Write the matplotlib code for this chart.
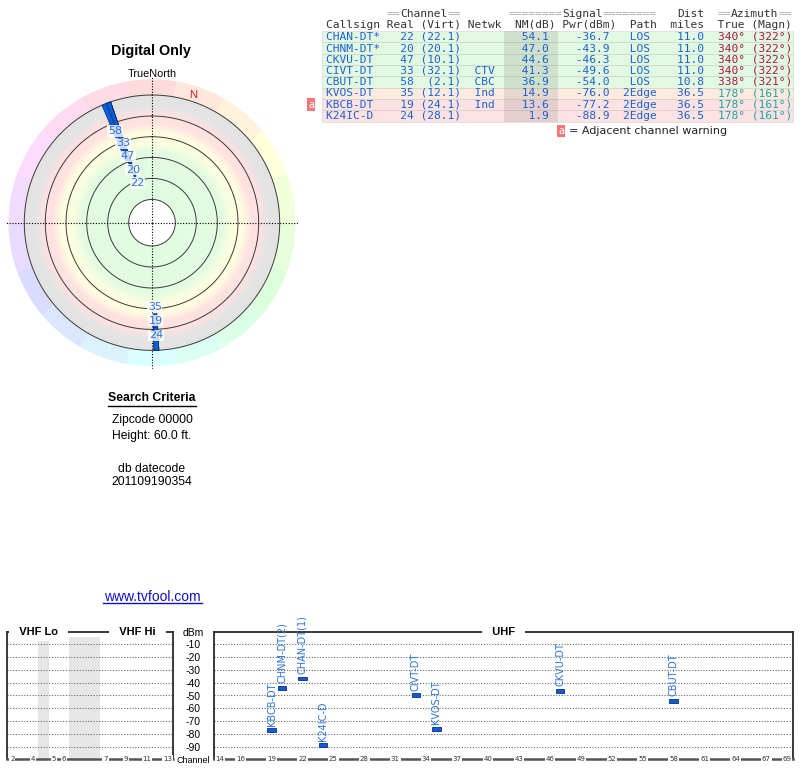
import colorsys
import numpy as np
import matplotlib
matplotlib.use('Agg')
import matplotlib.pyplot as plt
from matplotlib.colors import LinearSegmentedColormap
from matplotlib.patches import Rectangle

# station table
callsigns = ['CHAN-DT*', 'CHNM-DT*', 'CKVU-DT', 'CIVT-DT', 'CBUT-DT', 'KVOS-DT', 'KBCB-DT', 'K24IC-D']
real_ch = [22, 20, 47, 33, 58, 35, 19, 24]
virt_ch = ['22.1', '20.1', '10.1', '32.1', '2.1', '12.1', '24.1', '28.1']
netwk = ['', '', '', 'CTV', 'CBC', 'Ind', 'Ind', '']
nm_db = [54.1, 47.0, 44.6, 41.3, 36.9, 14.9, 13.6, 1.9]
pwr_dbm = [-36.7, -43.9, -46.3, -49.6, -54.0, -76.0, -77.2, -88.9]
path = ['LOS', 'LOS', 'LOS', 'LOS', 'LOS', '2Edge', '2Edge', '2Edge']
dist_mi = [11.0, 11.0, 11.0, 11.0, 10.8, 36.5, 36.5, 36.5]
az_true = [340, 340, 340, 340, 338, 178, 178, 178]
az_magn = [322, 322, 322, 322, 321, 161, 161, 161]
adjacent = [False, False, False, False, False, False, True, False]
spec_labels = ['CHAN-DT(1)', 'CHNM-DT(2)', 'CKVU-DT', 'CIVT-DT', 'CBUT-DT', 'KVOS-DT', 'KBCB-DT', 'K24IC-D']

# spectrum axes
dbm_levels = [-10, -20, -30, -40, -50, -60, -70, -80, -90]
vhf_ticks = [2, 4, 5, 6, 7, 9, 11, 13]
uhf_ticks = [14, 16, 19, 22, 25, 28, 31, 34, 37, 40, 43, 46, 49, 52, 55, 58, 61, 64, 67, 69]

BLUE = '#1d62d4'
LBLUE = '#2a74dc'
W, H = 800, 768


def nm_radius(nm):
    return 107 - 1.07 * nm


def vhf_pos(ch):
    if ch <= 4:
        return ch - 2
    if ch <= 6:
        return ch - 1
    return ch + 2


def az_color(az, s=0.85, v=0.65):
    return colorsys.hsv_to_rgb((az % 360) / 360.0, s, v)


def row_color(nm):
    if nm >= 25:
        return '#e1f8e1'
    if nm >= 14.5:
        return '#fdebe0'
    return '#fce2e2'


fig = plt.figure(figsize=(8, 7.68), dpi=100)

# overlay in pixel coordinates for texts / table
ov = fig.add_axes([0, 0, 1, 1])
ov.set_xlim(0, W)
ov.set_ylim(H, 0)
ov.axis('off')

ov.text(151, 51, 'Digital Only', ha='center', va='center', fontsize=10.4,
        fontweight='bold', family='Liberation Sans')
ov.text(152, 74, 'TrueNorth', ha='center', va='center', fontsize=7.8, family='Liberation Sans')

ov.text(152, 398, 'Search Criteria', ha='center', va='center', fontsize=8.8,
        fontweight='bold', family='Liberation Sans')
ov.plot([108, 196], [405.5, 405.5], color='black', lw=1)
ov.text(152, 420, 'Zipcode 00000', ha='center', va='center', fontsize=8.7, family='Liberation Sans')
ov.text(152, 436, 'Height: 60.0 ft.', ha='center', va='center', fontsize=8.7, family='Liberation Sans')
ov.text(152, 469, 'db datecode', ha='center', va='center', fontsize=8.7, family='Liberation Sans')
ov.text(152, 482, '201109190354', ha='center', va='center', fontsize=8.7, family='Liberation Sans')
ov.text(152, 597, 'www.tvfool.com', ha='center', va='center', fontsize=10, color='#1010c8',
        family='Liberation Sans')
ov.plot([103, 201.5], [603, 603], color='#1010c8', lw=1)

# table
X0, CW = 326, 6.75
ROW0, ROWH = 36.8, 11.3


def put(col, y, s, color):
    ov.text(X0 + col * CW, y, s, color=color, ha='left', va='center',
            family='DejaVu Sans Mono', fontsize=8.07, zorder=4)


GRAY = '#a8a8a8'
DARK = '#333333'
put(9, 14.3, '==', GRAY)
put(11, 14.3, 'Channel', DARK)
put(18, 14.3, '==', GRAY)
put(27, 14.3, '========', GRAY)
put(35, 14.3, 'Signal', DARK)
put(41, 14.3, '========', GRAY)
put(52, 14.3, 'Dist', DARK)
put(58, 14.3, '==', GRAY)
put(60, 14.3, 'Azimuth', DARK)
put(67, 14.3, '==', GRAY)
put(0, 25.3, 'Callsign Real (Virt) Netwk  NM(dB) Pwr(dBm)  Path  miles  True (Magn)', DARK)

for i in range(len(callsigns)):
    y = ROW0 + i * ROWH
    ov.add_patch(Rectangle((322, y - ROWH / 2), 471, ROWH, fc=row_color(nm_db[i]),
                           ec=(0.6, 0.6, 0.6, 0.25), lw=0.6, zorder=1))
    ov.add_patch(Rectangle((X0 + 26.4 * CW, y - ROWH / 2), 8 * CW, ROWH,
                           fc=(0.35, 0.35, 0.35), alpha=0.14, ec='none', zorder=2))
    left = (f"{callsigns[i]:<8} {real_ch[i]:>4} {'(' + virt_ch[i] + ')':>6} {netwk[i]:^5}  "
            f"{nm_db[i]:5.1f}    {pwr_dbm[i]:5.1f}  {path[i]:^5}{dist_mi[i]:7.1f}")
    put(0, y, left, BLUE)
    put(58, y, f"{az_true[i]}\u00b0 ({az_magn[i]}\u00b0)", az_color(az_true[i]))
    if adjacent[i]:
        ov.text(311, y, 'a', ha='center', va='center', color='white', fontsize=7,
                bbox=dict(boxstyle='square,pad=0.15', fc='#f07878', ec='none'))

ov.text(561, 131, 'a', ha='center', va='center', color='white', fontsize=7,
        bbox=dict(boxstyle='square,pad=0.15', fc='#f07878', ec='none'))
ov.text(569, 131, '= Adjacent channel warning', ha='left', va='center', fontsize=8,
        family='DejaVu Sans', color='#222222')

# polar radar
R = 146
CX, CY = 152, 222.7
pax = fig.add_axes([(CX - R) / W, (H - CY - R) / H, 2 * R / W, 2 * R / H], projection='polar')
pax.set_theta_zero_location('N')
pax.set_theta_direction(-1)
pax.set_ylim(0, R)
pax.set_axis_off()

R_OUT = 127.7
ring_r = [23.3, 44.3, 65.3, 86.0, 106.7, R_OUT]

# pastel compass ring
for k in range(18):
    az = k * 20
    pax.bar(np.radians(az), 143.5 - R_OUT, width=np.radians(20), bottom=R_OUT,
            color=colorsys.hsv_to_rgb(az / 360.0, 0.14, 1.0), lw=0, zorder=1)

# signal bands
band_stops = [(23.3, '#e0fce0'), (70, '#e2fbe0'), (80, '#fbfde0'), (91, '#fefde0'),
              (100, '#ffe1e1'), (110, '#fde0e0'), (116.5, '#e4e4e4'), (R_OUT, '#e2e2e2')]
band_cmap = LinearSegmentedColormap.from_list(
    'bands', [((r - 23.3) / (R_OUT - 23.3), c) for r, c in band_stops])
th_edges = np.linspace(0, 2 * np.pi, 181)
r_edges = np.arange(23.3, R_OUT + 0.01, 0.5)
T, RR = np.meshgrid(th_edges, r_edges)
C = np.tile(((r_edges[:-1] + r_edges[1:]) / 2)[:, None], (1, len(th_edges) - 1))
pax.pcolormesh(T, RR, C, cmap=band_cmap, vmin=23.3, vmax=R_OUT, shading='flat', zorder=1)
pax.bar(0, 23.3, width=2 * np.pi, bottom=0, color='white', lw=0, zorder=1)

theta = np.linspace(0, 2 * np.pi, 361)
for r in ring_r:
    pax.plot(theta, np.full_like(theta, r), color='#3a3a3a', lw=0.7, zorder=2)
for a in [0, 0.5 * np.pi, np.pi, 1.5 * np.pi]:
    pax.plot([a, a], [0, R], color='black', lw=0.8, ls=(0, (1, 1.5)), zorder=2.5)

decl = az_true[0] - az_magn[0]
pax.text(np.radians(decl), 134, 'N', ha='center', va='center', color='#e8102a',
         fontsize=8, family='Liberation Sans', zorder=5)

# station bars
for i in range(len(callsigns)):
    r_in = nm_radius(nm_db[i])
    pax.bar(np.radians(az_true[i]), R_OUT - r_in, width=np.radians(2.2), bottom=r_in,
            color='#0b5ed7', edgecolor='#0a2a6a', lw=0.5, zorder=3)

# labels stacked outward from the strongest of each bearing group
groups = {}
for i, az in enumerate(az_true):
    groups.setdefault(round(az / 10), []).append(i)
for idx in groups.values():
    idx = sorted(idx, key=lambda j: -nm_db[j])
    r0 = nm_radius(nm_db[idx[0]]) - 7
    for k, j in enumerate(idx):
        pax.text(np.radians(az_true[j]), r0 + 14.2 * k, str(real_ch[j]), ha='center', va='center',
                 fontsize=8, color=LBLUE, zorder=5,
                 bbox=dict(boxstyle='square,pad=0.05', fc='white', ec='none', alpha=0.8))

# spectrum panels
bottom = (H - 759.3) / H
height = 127.6 / H
vax = fig.add_axes([7.3 / W, bottom, 165.4 / W, height])
uax = fig.add_axes([214 / W, bottom, 578.7 / W, height])
vax.set_xlim(-0.5, 15.5)
uax.set_xlim(13.42, 69.55)

for ax in (vax, uax):
    ax.set_ylim(-100, 0)
    ax.set_xticks([])
    for lvl in dbm_levels:
        ax.axhline(lvl, color='#6a6a6a', lw=0.8, ls=(0, (1, 1.5)), zorder=1)
    for side in ('top', 'left', 'right'):
        ax.spines[side].set_color('#2a2a2a')
        ax.spines[side].set_linewidth(1.3)
    ax.spines['bottom'].set_color('#555555')
    ax.spines['bottom'].set_linewidth(1.8)

vax.set_yticks([])
vax.axvspan(2.5, 3.5, ymax=0.96, color='#e6e6e6', lw=0, zorder=0.5)
vax.axvspan(5.5, 8.5, ymax=0.96, color='#e6e6e6', lw=0, zorder=0.5)
for ch in vhf_ticks:
    vax.text(vhf_pos(ch), -100, str(ch), ha='center', va='center', fontsize=5, color='#333333',
             family='DejaVu Sans', clip_on=False, zorder=5,
             bbox=dict(boxstyle='square,pad=0.12', fc='white', ec='none'))
for ch in uhf_ticks:
    uax.text(ch, -100, str(ch), ha='center', va='center', fontsize=5, color='#333333',
             family='DejaVu Sans', clip_on=False, zorder=5,
             bbox=dict(boxstyle='square,pad=0.12', fc='white', ec='none'))

title_kw = dict(ha='center', va='center', fontsize=8, fontweight='bold',
                family='Liberation Sans', clip_on=False, zorder=5,
                bbox=dict(boxstyle='square,pad=0.35', fc='white', ec='none'))
for ax, xf, s in [(vax, 0.19, 'VHF Lo'), (vax, 0.787, 'VHF Hi'), (uax, 0.5, 'UHF')]:
    ax.text(xf, 1.0, '  ' + s + '  ', transform=ax.transAxes, **title_kw)

uax.set_yticks([0] + dbm_levels + [-100])
uax.set_yticklabels(['dBm'] + [str(v) for v in dbm_levels] + ['Channel'])
uax.tick_params(axis='y', length=0, pad=15.1, labelsize=7.5)
for lab in uax.get_yticklabels():
    lab.set_ha('center')
    lab.set_family('Liberation Sans')
uax.get_yticklabels()[-1].set_fontsize(6.5)

uax.bar(real_ch, 3.0, bottom=[p - 1.5 for p in pwr_dbm], width=0.8, color='#0b5ed7',
        edgecolor='#0a2f7a', lw=0.6, zorder=3)
for ch, p, lab in zip(real_ch, pwr_dbm, spec_labels):
    uax.text(ch, p + 3.5, lab, rotation=90, ha='center', va='bottom', fontsize=7,
             color=LBLUE, family='DejaVu Sans', clip_on=False, zorder=4)

fig.savefig('out.png', dpi=100)
